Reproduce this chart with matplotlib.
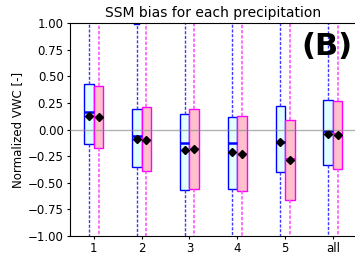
import matplotlib
matplotlib.use("Agg")
import matplotlib.pyplot as plt

categories = ["1", "2", "3", "4", "5", "all"]

# Series A (blue / light cyan boxes)
a_whislo = [-1.5, -1.5, -1.5, -1.5, -1.5, -1.5]
a_q1 = [-0.14, -0.35, -0.57, -0.56, -0.40, -0.33]
a_med = [0.165, -0.057, -0.13, -0.13, -0.12, -0.01]
a_q3 = [0.43, 0.19, 0.15, 0.118, 0.217, 0.273]
a_whishi = [1.5, 0.995, 1.5, 1.5, 1.5, 1.5]
a_mean = [0.13, -0.088, -0.19, -0.207, -0.116, -0.045]

# Series B (magenta / pink boxes)
b_whislo = [-1.5, -1.5, -1.5, -1.5, -1.5, -1.5]
b_q1 = [-0.17, -0.39, -0.56, -0.58, -0.66, -0.37]
b_med = [0.12, -0.10, -0.185, -0.23, -0.275, -0.04]
b_q3 = [0.41, 0.21, 0.19, 0.13, 0.086, 0.27]
b_whishi = [1.5, 1.5, 1.5, 1.5, 1.5, 1.5]
b_mean = [0.12, -0.097, -0.185, -0.23, -0.285, -0.055]

yticks = [-1.0, -0.75, -0.5, -0.25, 0.0, 0.25, 0.5, 0.75, 1.0]


def stats(lo, q1, med, q3, hi, mean):
    return [dict(whislo=l, q1=a, med=m, q3=b, whishi=h, mean=mn, fliers=[])
            for l, a, m, b, h, mn in zip(lo, q1, med, q3, hi, mean)]


fig = plt.figure(figsize=(3.55, 2.56), dpi=100)
ax = fig.add_axes([0.197, 0.078, 0.808, 0.832])

pos = list(range(1, len(categories) + 1))
off = 0.1
w = 0.2

ax.bxp(stats(a_whislo, a_q1, a_med, a_q3, a_whishi, a_mean),
       positions=[p - off for p in pos], widths=w, showmeans=True,
       patch_artist=True, showfliers=False, manage_ticks=False,
       boxprops=dict(facecolor="lightcyan", edgecolor="blue", linewidth=1.0),
       medianprops=dict(color="blue", linewidth=1.8),
       whiskerprops=dict(color="#3a3aff", linestyle=(0, (2.2, 1.2)), linewidth=1.0),
       capprops=dict(color="blue", linewidth=1.0),
       meanprops=dict(marker="D", markerfacecolor="black",
                      markeredgecolor="black", markersize=4.5))

ax.bxp(stats(b_whislo, b_q1, b_med, b_q3, b_whishi, b_mean),
       positions=[p + off for p in pos], widths=w, showmeans=True,
       patch_artist=True, showfliers=False, manage_ticks=False,
       boxprops=dict(facecolor="pink", edgecolor="magenta", linewidth=1.0),
       medianprops=dict(color="magenta", linewidth=1.5),
       whiskerprops=dict(color="#ff55ff", linestyle=(0, (2.0, 1.1)), linewidth=1.2),
       capprops=dict(color="magenta", linewidth=1.0),
       meanprops=dict(marker="D", markerfacecolor="black",
                      markeredgecolor="black", markersize=4.5))

ax.axhline(0, color="gray", linewidth=1.0, alpha=0.6, zorder=5)

ax.set_xlim(0.5, len(categories) + 0.5)
ax.set_ylim(-1.0, 1.0)
ax.set_xticks(pos)
ax.set_xticklabels(categories)
ax.set_yticks(yticks)
ax.set_yticklabels([f"{v:.2f}".replace("-", "\u2212") for v in yticks])
ax.tick_params(labelsize=8.5, length=2.5, pad=2.0)
ax.set_ylabel("Normalized VWC [-]", fontsize=8.5, labelpad=3)
ax.set_title("SSM bias for each precipitation", fontsize=10, pad=4)
ax.text(0.985, 0.89, "(B)", transform=ax.transAxes, fontsize=22,
        fontweight="bold", ha="right", va="center")

fig.savefig("out.png", dpi=100)
